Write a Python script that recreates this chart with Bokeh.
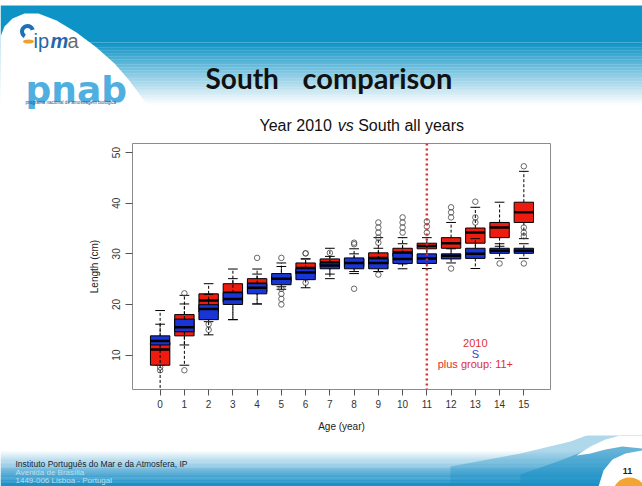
import numpy as np
from bokeh.plotting import figure
from bokeh.layouts import column
from bokeh.models import Range1d, FixedTicker, Span
from bokeh.core.properties import value
from bokeh.embed import file_html
from bokeh.resources import INLINE

# ---------------- data ----------------
ages = list(range(16))
age_labels = [str(a) for a in ages]
len_ticks = [10, 20, 30, 40, 50]

# 2010 (red)
r_low = [8.0, 8.0, 14.0, 17.0, 20.1, 23.0, 25.0, 26.0, 26.5, 26.5, 28.0, 29.0, 29.5, 30.5, 31.5, 33.0]
r_q1  = [8.0, 13.8, 18.5, 20.5, 22.5, 24.5, 26.0, 27.5, 27.5, 28.0, 29.5, 31.0, 31.1, 32.1, 33.2, 36.2]
r_med = [11.1, 16.2, 20.8, 22.3, 24.1, 25.0, 27.2, 28.3, 28.3, 29.2, 30.3, 31.55, 32.1, 34.2, 35.2, 38.2]
r_q3  = [12.5, 18.0, 22.1, 24.1, 25.1, 25.5, 28.2, 29.0, 29.0, 30.2, 31.1, 32.1, 33.2, 35.1, 36.2, 40.2]
r_up  = [16.1, 21.8, 24.1, 27.0, 27.0, 27.5, 29.0, 31.1, 31.0, 33.2, 33.2, 33.2, 36.2, 39.2, 40.2, 46.3]
r_out_age = [0, 0, 1, 1, 4, 6, 9, 9, 9, 10, 10, 10, 10, 11, 11, 11, 12, 12, 12, 13, 15]
r_out_len = [7.6, 7.0, 7.0, 22.2, 29.2, 30.1, 34.2, 35.2, 36.2, 34.2, 35.2, 36.2, 37.2,
             34.2, 35.4, 36.4, 37.2, 38.2, 39.2, 40.3, 47.3]

# South, all years (blue)
s_low = [2.0, 12.0, 16.6, 17.0, 20.1, 23.5, 23.3, 25.1, 26.1, 26.5, 27.05, 27.1, 28.2, 27.1, 29.1, 29.1]
s_q1  = [12.0, 14.6, 17.0, 20.0, 22.1, 23.9, 24.9, 27.05, 27.05, 27.05, 28.1, 28.1, 29.0, 29.1, 30.1, 30.1]
s_med = [12.8, 15.5, 19.1, 21.1, 23.3, 25.1, 26.3, 27.7, 28.2, 28.2, 29.0, 29.1, 29.6, 30.0, 30.6, 30.6]
s_q3  = [13.8, 17.1, 19.95, 22.3, 24.1, 26.1, 27.05, 28.2, 29.2, 29.0, 30.1, 30.0, 30.0, 31.1, 31.1, 31.1]
s_up  = [18.8, 20.1, 22.0, 25.1, 26.0, 28.2, 29.0, 29.5, 30.0, 31.1, 32.0, 31.5, 31.0, 33.0, 32.0, 32.0]
s_out_age = [2, 2, 5, 5, 5, 5, 5, 6, 6, 7, 8, 8, 8, 9, 9, 9, 12, 13, 13, 14, 15, 15, 15, 15]
s_out_len = [16.1, 15.0, 29.2, 23.1, 22.1, 21.1, 20.0, 30.1, 24.3, 30.2, 23.1, 31.9, 32.2,
             25.9, 32.2, 33.2, 27.1, 36.2, 37.2, 28.1, 28.1, 33.5, 34.2, 35.2]

plus_group_age = 11
legend_lines = ["2010", "S", "plus group: 11+"]

RED = "#ee1c0e"
BLUE = "#1a35d6"
FONT = value("Liberation Sans")
W = 642

# ---------------- header (slide top) ----------------
hdr = figure(width=W, height=135, x_range=Range1d(0, 642), y_range=Range1d(135, 0),
             x_axis_type=None, y_axis_type=None, toolbar_location=None,
             output_backend="svg", min_border=0, outline_line_color=None, title=None)
hdr.frame_align = False
hdr.grid.visible = False
top_blue = np.array([13, 147, 198])
hdr.quad(left=0, right=642, top=5, bottom=42, fill_color="#0d93c6", line_color=None)
n = 40
for i in range(n):
    y0 = 42 + i * 62 / n
    t = (i + 0.5) / n
    c = top_blue + (np.array([255, 255, 255]) - top_blue) * t
    col = "#%02x%02x%02x" % tuple(int(v) for v in c)
    hdr.quad(left=0, right=642, top=y0, bottom=y0 + 62 / n + 0.3, fill_color=col, line_color=None)
# white swoosh on the left
sx = [0, 4, 12, 24, 38, 56, 76, 96, 114, 128, 140, 150, 0]
sy = [36, 26, 18, 13, 13, 20, 32, 47, 63, 79, 95, 110, 110]
hdr.patch(sx, sy, fill_color="white", line_color=None)
# ipma logo
hdr.annular_wedge(x=[27], y=[31], inner_radius=3.5, outer_radius=7.5, start_angle=0.3,
                  end_angle=4.2, fill_color="#1f70b4", line_color=None)
hdr.ellipse(x=[28], y=[41], width=11, height=4, fill_color="#f0a030", line_color=None)
hdr.text(x=[33], y=[40], text=["ip"], text_font=FONT, text_font_size="20px",
         text_color="#2467a8", text_baseline="alphabetic")
hdr.text(x=[50], y=[40], text=["m"], text_font=FONT, text_font_size="20px",
         text_font_style="bold italic", text_color="#2467a8", text_baseline="alphabetic")
hdr.text(x=[67], y=[40], text=["a"], text_font=FONT, text_font_size="20px",
         text_color="#6b6b6b", text_baseline="alphabetic")
# pnab logo
hdr.text(x=[25], y=[89], text=["pnab"], text_font=value("DejaVu Sans"), text_font_size="36px",
         text_font_style="bold", text_color="#4fb0e0", text_baseline="alphabetic")
hdr.text(x=[25], y=[102], text=["programa nacional de amostragem biológica"], text_font=FONT,
         text_font_size="4.6px", text_color="#1a4f8a", text_baseline="middle")
# slide title
hdr.text(x=[205], y=[77], text=["South"], text_font=value("Lato"), text_font_size="28px",
         text_font_style="bold", text_color="#111111", text_baseline="alphabetic")
hdr.text(x=[302], y=[77], text=["comparison"], text_font=value("Lato"), text_font_size="29px",
         text_font_style="bold", text_color="#111111", text_baseline="alphabetic")
# chart title
hdr.text(x=[259], y=[125], text=["Year 2010"], text_font=FONT, text_font_size="16px",
         text_color="#111111", text_baseline="middle")
hdr.text(x=[337.3], y=[125], text=["vs"], text_font=FONT, text_font_size="16px",
         text_font_style="italic", text_color="#111111", text_baseline="middle")
hdr.text(x=[357.7], y=[125], text=["South all years"], text_font=FONT, text_font_size="16px",
         text_color="#111111", text_baseline="middle")

# ---------------- box plot ----------------
p = figure(width=W, height=300, x_range=Range1d(-1.14, 16.1), y_range=Range1d(3.2, 51.8),
           toolbar_location=None, output_backend="svg", title=None,
           min_border_left=132, min_border_right=92, min_border_top=8, min_border_bottom=46)
p.frame_align = False
p.grid.visible = False
p.outline_line_color = "#8c8c8c"
p.xaxis.ticker = FixedTicker(ticks=ages)
p.xaxis.major_label_overrides = {a: l for a, l in zip(ages, age_labels)}
p.yaxis.ticker = FixedTicker(ticks=len_ticks)
p.yaxis.major_label_orientation = "vertical"
for ax in (p.xaxis[0], p.yaxis[0]):
    ax.axis_line_color = None
    ax.major_tick_in = 0
    ax.minor_tick_line_color = None
    ax.major_tick_line_color = "#555555"
    ax.major_label_text_font = "Liberation Sans"
    ax.major_label_text_font_size = "10px"
    ax.major_label_text_color = "#333333"
    ax.axis_label_text_font = "Liberation Sans"
    ax.axis_label_text_font_size = "10px"
    ax.axis_label_text_font_style = "normal"
    ax.axis_label_text_color = "#222222"
p.xaxis.major_tick_out = 6
p.xaxis.major_label_standoff = 4
p.xaxis.axis_label = "Age (year)"
p.xaxis.axis_label_standoff = 10
p.yaxis.major_tick_out = 7
p.yaxis.major_label_standoff = 5
p.yaxis.axis_label = "Length (cm)"
p.yaxis.axis_label_standoff = 10

bw = 0.4   # half box width
cw = 0.2   # half cap width


def draw_boxes(low, q1, med, q3, up, oa, ol, color):
    x = np.array(ages, dtype=float)
    p.segment(x0=x, y0=q3, x1=x, y1=up, line_color="black", line_dash="3 2", line_width=1)
    p.segment(x0=x, y0=q1, x1=x, y1=low, line_color="black", line_dash="3 2", line_width=1)
    p.segment(x0=x - cw, y0=up, x1=x + cw, y1=up, line_color="black", line_width=1)
    p.segment(x0=x - cw, y0=low, x1=x + cw, y1=low, line_color="black", line_width=1)
    p.quad(left=x - bw, right=x + bw, bottom=q1, top=q3, fill_color=color,
           line_color="black", line_width=1)
    p.segment(x0=x - bw, y0=med, x1=x + bw, y1=med, line_color="black", line_width=2.5)
    p.scatter(x=oa, y=ol, marker="circle", size=5.5, fill_color=None,
              line_color="#444444", line_width=0.8)


draw_boxes(r_low, r_q1, r_med, r_q3, r_up, r_out_age, r_out_len, RED)
draw_boxes(s_low, s_q1, s_med, s_q3, s_up, s_out_age, s_out_len, BLUE)

p.add_layout(Span(location=plus_group_age, dimension="height", line_color="#d83030",
                  line_dash="2 3", line_width=2.5))
p.text(x=[13, 13, 13], y=[12.45, 10.3, 8.15], text=legend_lines, text_font=FONT,
       text_font_size="11px", text_align="center", text_baseline="middle",
       text_color=["#e03030", "#3345cc", "#e03030"])

# ---------------- footer (slide bottom) ----------------
ftr = figure(width=W, height=51, x_range=Range1d(0, 642), y_range=Range1d(486, 435),
             x_axis_type=None, y_axis_type=None, toolbar_location=None,
             output_backend="svg", min_border=0, outline_line_color=None, title=None)
ftr.frame_align = False
ftr.grid.visible = False
bot_blue = np.array([27, 143, 198])
n = 30
for i in range(n):
    y0 = 450 + i * 32 / n
    t = (i + 0.5) / n
    c = np.array([255, 255, 255]) + (bot_blue - np.array([255, 255, 255])) * t
    col = "#%02x%02x%02x" % tuple(int(v) for v in c)
    ftr.quad(left=0, right=642, top=y0, bottom=y0 + 32 / n + 0.3, fill_color=col, line_color=None)
ftr.quad(left=0, right=642, top=482, bottom=486, fill_color="#1b8fc6", line_color=None)
ftr.patch([450, 520, 570, 610, 642, 642, 450], [466, 453, 441, 426, 410, 486, 486],
          fill_color="#1b8fc6", fill_alpha=0.35, line_color=None)
ftr.patch([520, 560, 590, 615, 642, 642, 520], [474, 460, 448, 437, 428, 486, 486],
          fill_color="#1b8fc6", fill_alpha=0.5, line_color=None)
ftr.patch([576, 590, 605, 620, 642, 642, 622, 605, 590],
          [455, 446, 439, 435, 432, 448, 446, 449, 453], fill_color="white", line_color=None)
ftr.patch([598, 603, 612, 625, 642, 642], [486, 470, 459, 453, 450, 486],
          fill_color="white", line_color=None)
ftr.wedge(x=[629], y=[494], radius=17, start_angle=0, end_angle=np.pi,
          fill_color="#f2a533", line_color=None)
ftr.text(x=[15], y=[463.5], text=["Instituto Português do Mar e da Atmosfera, IP"], text_font=FONT,
         text_font_size="8.5px", text_color="#1a2530", text_baseline="middle")
ftr.text(x=[15, 15], y=[471.5, 479.5], text=["Avenida de Brasília", "1449-006 Lisboa - Portugal"],
         text_font=FONT, text_font_size="8px", text_color="#b9e0f2", text_baseline="middle")
ftr.text(x=[627], y=[470], text=["11"], text_font=FONT, text_font_size="9px",
         text_font_style="bold", text_color="#222222", text_align="center", text_baseline="middle")

page = column(hdr, p, ftr, spacing=0)
open("out.html", "w").write(file_html(page, INLINE))
